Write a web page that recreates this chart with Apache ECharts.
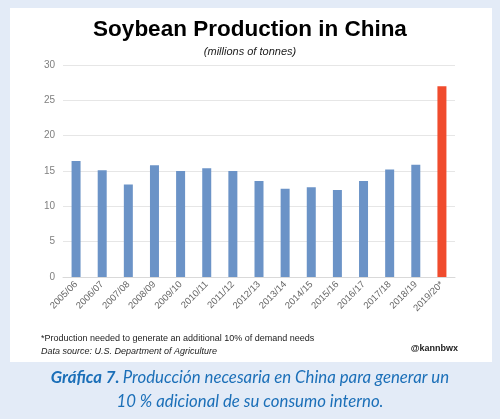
<!DOCTYPE html>
<html><head><meta charset="utf-8">
<script src="https://cdn.jsdelivr.net/npm/echarts@6/dist/echarts.min.js"></script>
<style>html,body{margin:0;padding:0;background:#e3ebf7;}#c{width:500px;height:419px;}</style>
</head><body><div id="c"></div>
<script>
const categories = ['2005/06','2006/07','2007/08','2008/09','2009/10','2010/11','2011/12','2012/13','2013/14','2014/15','2015/16','2016/17','2017/18','2018/19','2019/20*'];
const production = [16.4, 15.1, 13.1, 15.8, 15.0, 15.4, 15.0, 13.6, 12.5, 12.7, 12.3, 13.6, 15.2, 15.9, 27.0];
const yTicks = [0, 5, 10, 15, 20, 25, 30];
const chart = echarts.init(document.getElementById('c'));
chart.setOption({
  backgroundColor: '#e3ebf7',
  animation: false,
  graphic: [
    {type:'rect', z:-10, shape:{x:10,y:8,width:482,height:354}, style:{fill:'#ffffff'}},
    {type:'text', left:'center', top:18, style:{text:'Soybean Production in China', font:'bold 22.5px "Liberation Sans", Arial, sans-serif', fill:'#000'}},
    {type:'text', left:'center', top:46, style:{text:'(millions of tonnes)', font:'italic 11px "Liberation Sans", Arial, sans-serif', fill:'#222'}},
    {type:'text', left:41, top:334, style:{text:'*Production needed to generate an additional 10% of demand needs', font:'9px "Liberation Sans", Arial, sans-serif', fill:'#222'}},
    {type:'text', left:41, top:347, style:{text:'Data source: U.S. Department of Agriculture', font:'italic 9px "Liberation Sans", Arial, sans-serif', fill:'#222'}},
    {type:'text', right:42, top:344, style:{text:'@kannbwx', font:'bold 9px "Liberation Sans", Arial, sans-serif', fill:'#222'}},
    {type:'text', left:'center', top:369, style:{
      text:'{b|Gráfica 7.} {n|Producción necesaria en China para generar un}',
      rich:{b:{font:'italic bold 16.8px Lato, sans-serif', fill:'#1b6fb8'}, n:{font:'italic 16.8px Lato, sans-serif', fill:'#1b6fb8'}}}},
    {type:'text', left:'center', top:393, style:{text:'10 % adicional de su consumo interno.', font:'italic 16.8px Lato, sans-serif', fill:'#1b6fb8'}}
  ],
  grid: {left:63, right:45, top:65, bottom:142},
  xAxis: {
    type:'category', data:categories,
    axisLine:{lineStyle:{color:'#d9d9d9'}},
    axisTick:{show:false},
    axisLabel:{rotate:45, color:'#666', fontSize:9.5, fontFamily:'"Liberation Sans", Arial, sans-serif', interval:0, margin:6}
  },
  yAxis: {
    type:'value', min:yTicks[0], max:yTicks[yTicks.length-1], interval:5,
    axisLine:{show:false}, axisTick:{show:false},
    axisLabel:{color:'#7f7f7f', fontSize:10, fontFamily:'"Liberation Sans", Arial, sans-serif', margin:8},
    splitLine:{lineStyle:{color:'#e6e6e6'}}
  },
  series: [{
    type:'bar', barWidth:9,
    data: production.map((v,i)=>({value:v, itemStyle:{color: i===production.length-1 ? '#f04b2d' : '#6b93c7'}}))
  }]
});
</script></body></html>
